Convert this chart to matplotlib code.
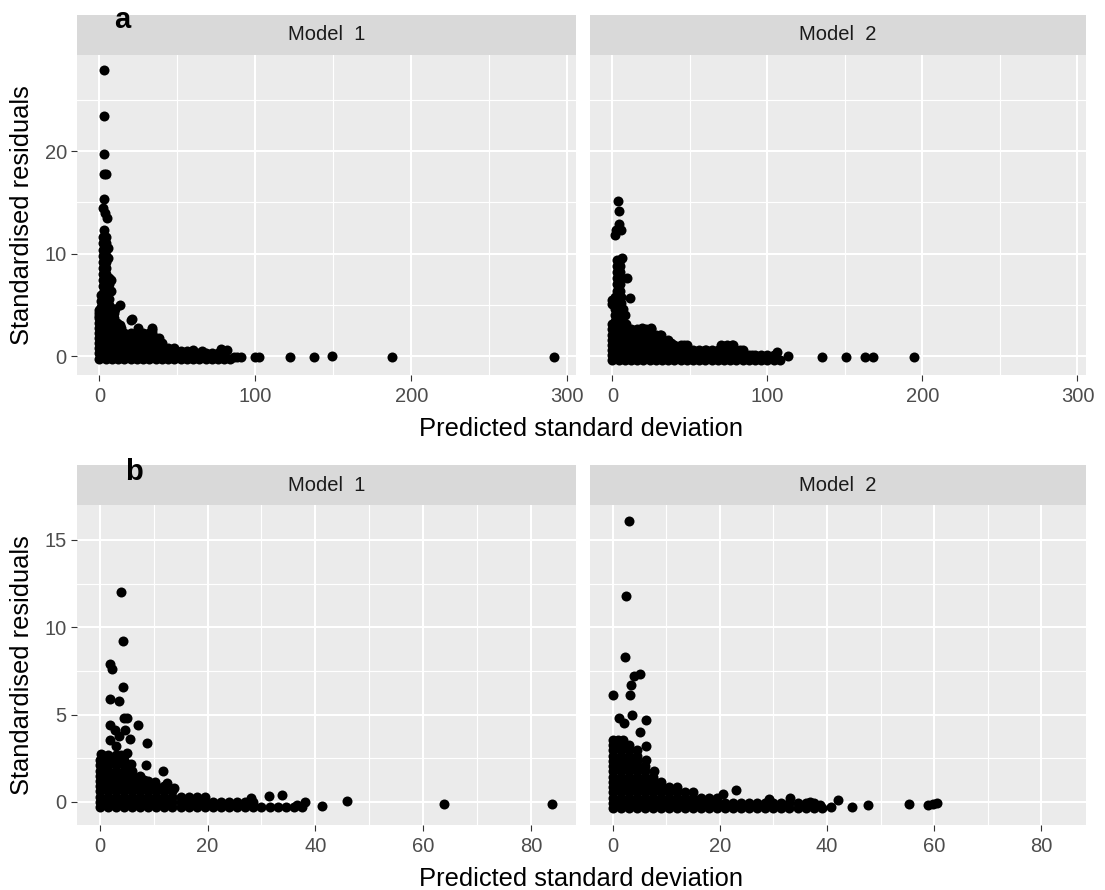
import matplotlib
matplotlib.use("Agg")
import matplotlib.pyplot as plt
from matplotlib.ticker import FixedLocator

plt.rcParams['font.family'] = ['Liberation Sans', 'DejaVu Sans']

# ---------------- labels ----------------
strip_labels = ["Model  1", "Model  2"]
panel_tags = ["a", "b"]
x_title = "Predicted standard deviation"
y_title = "Standardised residuals"

top_xticks = [0, 100, 200, 300]
top_xminor = [50, 150, 250]
top_yticks = [0, 10, 20]
top_yminor = [5, 15, 25]
bot_xticks = [0, 20, 40, 60, 80]
bot_xminor = [10, 30, 50, 70]
bot_yticks = [0, 5, 10, 15]
bot_yminor = [2.5, 7.5, 12.5]

# ---------------- data: (a) Model 1 ----------------
a1_pts_x = [2.6, 2.6, 2.6, 2.6, 4.3, 2.6, 2.0, 3.6, 5.1, 2.6,
            2.5, 4.0, 2.5, 4.0, 2.5, 4.0, 2.5, 4.0, 2.5, 4.0, 2.5, 4.0, 2.5, 4.0,
            2.5, 4.0, 2.5, 4.0, 2.5, 4.0, 2.5, 4.0, 2.5, 4.0,
            1.0, 1.0, 1.0, 1.0, 6.0, 6.0, 6.0, 6.0, 6.0, 7.5, 7.3, 5.5, 5.5,
            0.0, 0.0, 9.0, 10.0, 12.9, 13.0, 20.0, 21.0, 25.0, 33.6, 34.0,
            52, 56, 60, 66, 78, 82, 86, 88, 91,
            100, 102, 122, 137.4, 149.2, 187.8, 291.6]
a1_pts_y = [27.9, 23.4, 19.7, 17.8, 17.8, 15.3, 14.5, 14.0, 13.5, 12.3,
            11.6, 11.6, 11.0, 11.0, 10.4, 10.4, 9.8, 9.8, 9.2, 9.2, 8.6, 8.6, 8.0, 8.0,
            7.4, 7.4, 6.8, 6.8, 6.2, 6.2, 5.6, 5.6, 5.0, 5.0,
            6.0, 5.4, 4.8, 4.4, 7.6, 7.0, 6.4, 5.6, 5.0, 6.4, 7.4, 10.6, 9.6,
            4.5, 3.9, 4.6, 4.6, 5.0, 3.0, 3.5, 3.6, 2.7, 2.7, 2.5,
            0.5, 0.5, 0.6, 0.5, 0.7, 0.6, -0.13, -0.13, -0.13,
            -0.13, -0.13, -0.13, -0.13, 0.0, -0.13, -0.13]
a1_row_y = [-0.25, 0.25, 0.75, 1.25, 1.75, 2.25, 2.75, 3.25, 3.75, 4.25]
a1_row_x = [
    [0, 4, 8, 12, 16, 20, 24, 28, 32, 36, 40, 44, 48, 52, 56, 60, 64, 68, 72, 76, 80, 84],
    [0, 4, 8, 12, 16, 20, 24, 28, 32, 36, 40, 44, 48, 52, 56, 60, 64, 68, 72, 76, 80],
    [0, 4, 8, 12, 16, 20, 24, 28, 32, 36, 40, 44, 48],
    [0, 4, 8, 12, 16, 20, 24, 28, 32, 36, 40],
    [0, 4, 8, 12, 16, 20, 24, 28, 32, 36, 38],
    [0, 4, 8, 12, 16, 20, 24, 28, 32, 34],
    [0, 4, 8, 12, 14],
    [0, 3, 6, 9, 11],
    [0, 3, 6, 9],
    [0, 3, 6, 9],
]

# ---------------- data: (a) Model 2 ----------------
a2_pts_x = [3.6, 4.0, 4.0, 2.6, 5.4, 1.6, 6.3, 4.0,
            3.0, 4.7, 3.0, 4.7, 3.0, 4.7, 3.0, 4.7, 3.0, 4.7, 3.0, 4.7,
            1.5, 3.5, 5.5, 1.5, 3.5, 5.5, 1.5, 3.5, 5.5, 1.5, 3.5, 5.5, 1.5, 3.5, 5.5,
            7.0, 8.0, 9.3, 11.1, 0.0, 0.0,
            19.1, 25.0, 31.4, 37.8, 46.4, 60.3, 72.0, 77.3, 82.6, 90.0, 106.0, 113.6,
            135.4, 150.7, 162.9, 168.2, 194.8]
a2_pts_y = [15.1, 14.2, 12.9, 12.3, 12.3, 11.8, 9.6, 8.3,
            9.4, 9.4, 8.8, 8.8, 8.2, 8.2, 7.6, 7.6, 7.0, 7.0, 6.4, 6.4,
            5.8, 5.8, 5.8, 5.2, 5.2, 5.2, 4.6, 4.6, 4.6, 4.0, 4.0, 4.0, 3.4, 3.4, 3.4,
            4.6, 4.0, 7.6, 5.7, 5.5, 5.1,
            2.7, 2.7, 2.1, 1.3, 1.1, 0.6, 1.0, 1.1, 0.6, 0.1, 0.4, 0.0,
            -0.13, -0.13, -0.13, -0.13, -0.13]
a2_row_y = [-0.4, 0.1, 0.6, 1.1, 1.6, 2.1, 2.6, 3.1]
a2_row_x = [
    [0, 4, 8, 12, 16, 20, 24, 28, 32, 36, 40, 44, 48, 52, 56, 60, 64, 68, 72, 76, 80, 84, 88, 92, 96, 100, 104, 108],
    [0, 4, 8, 12, 16, 20, 24, 28, 32, 36, 40, 44, 48, 52, 56, 60, 64, 68, 72, 76, 80, 84, 88, 92, 96, 100, 104],
    [0, 4, 8, 12, 16, 20, 24, 28, 32, 36, 40, 44, 48, 52, 56, 60, 64, 68, 72, 76, 80, 84],
    [0, 4, 8, 12, 16, 20, 24, 28, 32, 36, 40, 44, 48, 70, 74, 78],
    [0, 4, 8, 12, 16, 20, 24, 28, 32, 36],
    [0, 4, 8, 12, 16, 20, 24, 28, 31],
    [0, 4, 8, 12, 16, 19, 22, 25],
    [0, 3, 6, 9],
]

# ---------------- data: (b) Model 1 ----------------
b1_pts_x = [3.9, 4.3, 1.9, 2.3, 4.3, 1.85, 3.6, 4.5, 5.1, 1.9, 7.2, 2.8, 4.7, 3.6,
            5.7, 1.9, 8.8, 3.0, 0.2, 5.0, 8.5, 5.9, 11.8, 0.5, 8.2, 10.2, 12.5, 13.8,
            28.0, 31.4, 33.8, 36.5, 38.0, 41.3, 45.8, 63.8, 83.9]
b1_pts_y = [12.0, 9.2, 7.9, 7.6, 6.6, 5.9, 5.8, 4.8, 4.8, 4.4, 4.4, 4.1, 4.1, 3.8,
            3.6, 3.55, 3.4, 3.2, 2.75, 2.8, 2.1, 2.2, 1.8, 2.2, 1.26, 1.16, 1.07, 0.78,
            0.2, 0.33, 0.37, -0.2, -0.02, -0.21, 0.04, -0.1, -0.1]
b1_row_y = [-0.3, 0.0, 0.3, 0.6, 0.9, 1.2, 1.5, 1.8, 2.1, 2.4, 2.7]
b1_row_x = [
    [0, 1.5, 3, 4.5, 6, 7.5, 9, 10.5, 12, 13.5, 15, 16.5, 18, 19.5, 21, 22.5, 24, 25.5, 27, 28.5, 30, 31.5, 33, 34.5, 36, 37.5],
    [0, 1.5, 3, 4.5, 6, 7.5, 9, 10.5, 12, 13.5, 15, 16.5, 18, 19.5, 21, 22.5, 24, 25.5, 27, 28.5],
    [0, 1.5, 3, 4.5, 6, 7.5, 9, 10.5, 12, 13.5, 15, 16.5, 18, 19.5],
    [0, 1.5, 3, 4.5, 6, 7.5, 9, 10.5, 12, 13.5],
    [0, 1.5, 3, 4.5, 6, 7.5, 9, 10.5, 12],
    [0, 1.5, 3, 4.5, 6, 7.5, 9],
    [0, 1.5, 3, 4.5, 6, 7.5],
    [0, 1.5, 3, 4.5, 6],
    [0, 1.5, 3, 4.5, 5.5],
    [0, 1.5, 3, 4.5],
    [0.5, 1.5, 3, 4],
]

# ---------------- data: (b) Model 2 ----------------
b2_pts_x = [3.0, 2.6, 2.3, 5.2, 4.0, 3.5, 0.0, 3.3, 3.7, 1.2, 6.3, 2.2, 5.2, 6.2,
            6.2, 7.7, 8.3, 23.1, 20.6, 29.2, 31.4, 33.1, 36.8, 38.7, 40.7, 42.1, 44.7,
            47.6, 55.2, 58.9, 59.8, 60.5]
b2_pts_y = [16.1, 11.8, 8.3, 7.35, 7.2, 6.7, 6.1, 6.1, 5.0, 4.8, 4.7, 4.5, 4.0, 3.2,
            2.4, 1.8, 1.1, 0.7, 0.43, 0.14, -0.15, 0.23, 0.0, -0.2, -0.3, 0.1, -0.3,
            -0.2, -0.1, -0.2, -0.1, -0.05]
b2_row_y = [-0.35, -0.05, 0.25, 0.55, 0.85, 1.15, 1.45, 1.75, 2.05, 2.35, 2.65, 2.95, 3.25, 3.55]
b2_row_x = [
    [0, 1.5, 3, 4.5, 6, 7.5, 9, 10.5, 12, 13.5, 15, 16.5, 18, 19.5, 21, 22.5, 24, 25.5, 27, 28.5, 30, 31.5, 33, 34.5, 36, 37.5, 39],
    [0, 1.5, 3, 4.5, 6, 7.5, 9, 10.5, 12, 13.5, 15, 16.5, 18, 19.5, 21, 22.5, 24, 25.5, 27, 28.5, 30, 31.5, 33, 34.5, 36, 37.5],
    [0, 1.5, 3, 4.5, 6, 7.5, 9, 10.5, 12, 13.5, 15, 16.5, 18, 19.5],
    [0, 1.5, 3, 4.5, 6, 7.5, 9, 10.5, 12, 13.5, 15],
    [0, 1.5, 3, 4.5, 6, 7.5, 9, 10.5, 12],
    [0, 1.5, 3, 4.5, 6, 7.5, 9],
    [0, 1.5, 3, 4.5, 6, 7.5],
    [0, 1.5, 3, 4.5, 6],
    [0, 1.5, 3, 4.5, 6],
    [0, 1.5, 3, 4.5],
    [0, 1.5, 3, 4.5],
    [0, 1.5, 3, 4.5],
    [0, 1.5, 3],
    [0, 1, 2],
]

# ---------------- figure ----------------
W, H = 1105, 890
fig = plt.figure(figsize=(W / 100, H / 100), dpi=100)


def px_axes(x0, y0, x1, y1):
    return fig.add_axes([x0 / W, 1 - y1 / H, (x1 - x0) / W, (y1 - y0) / H])


def collect(pts_x, pts_y, row_y, row_x):
    xs, ys = list(pts_x), list(pts_y)
    for yv, xl in zip(row_y, row_x):
        xs.extend(xl)
        ys.extend([yv] * len(xl))
    return xs, ys


cols = [(77, 576), (590, 1086)]
rows = [dict(strip=(15, 55), panel=(55, 375), xlim=(-14.4, 305.5), ylim=(-1.85, 29.4),
             xt=top_xticks, xm=top_xminor, yt=top_yticks, ym=top_yminor,
             data=[collect(a1_pts_x, a1_pts_y, a1_row_y, a1_row_x),
                   collect(a2_pts_x, a2_pts_y, a2_row_y, a2_row_x)]),
        dict(strip=(465, 505), panel=(505, 825), xlim=(-4.2, 88.3), ylim=(-1.32, 17.0),
             xt=bot_xticks, xm=bot_xminor, yt=bot_yticks, ym=bot_yminor,
             data=[collect(b1_pts_x, b1_pts_y, b1_row_y, b1_row_x),
                   collect(b2_pts_x, b2_pts_y, b2_row_y, b2_row_x)])]

for r, row in enumerate(rows):
    for c, (x0, x1) in enumerate(cols):
        ax = px_axes(x0, row['panel'][0], x1, row['panel'][1])
        ax.set_facecolor('#EBEBEB')
        for s in ax.spines.values():
            s.set_visible(False)
        ax.set_xlim(*row['xlim'])
        ax.set_ylim(*row['ylim'])
        ax.xaxis.set_major_locator(FixedLocator(row['xt']))
        ax.xaxis.set_minor_locator(FixedLocator(row['xm']))
        ax.yaxis.set_major_locator(FixedLocator(row['yt']))
        ax.yaxis.set_minor_locator(FixedLocator(row['ym']))
        ax.grid(which='major', color='white', linewidth=1.5)
        ax.grid(which='minor', color='white', linewidth=0.8)
        ax.set_axisbelow(True)
        ax.tick_params(which='major', length=4.3, width=0.8, color='#333333',
                       labelcolor='#4D4D4D', labelsize=14.5)
        ax.tick_params(axis='x', which='major', pad=4)
        ax.tick_params(axis='y', which='major', pad=3)
        ax.tick_params(which='minor', length=0)
        if c == 1:
            ax.tick_params(axis='y', left=False, labelleft=False)
        xs, ys = row['data'][c]
        ax.scatter(xs, ys, s=52, c='black', linewidths=0, zorder=3)

        sx = px_axes(x0, row['strip'][0], x1, row['strip'][1])
        sx.set_facecolor('#D9D9D9')
        for s in sx.spines.values():
            s.set_visible(False)
        sx.set_xticks([])
        sx.set_yticks([])
        sx.text(0.5, 0.5, strip_labels[c], ha='center', va='center',
                fontsize=14.5, color='#1A1A1A', transform=sx.transAxes)

    py0, py1 = row['panel']
    fig.text(581 / W, 1 - (py1 + 54) / H, x_title, ha='center', va='center',
             fontsize=18.4, color='black')
    fig.text(22 / W, 1 - ((py0 + py1) / 2) / H, y_title, ha='center', va='center',
             rotation=90, fontsize=18.4, color='black')

fig.text(122 / W, 1 - 28 / H, panel_tags[0], ha='center', va='baseline',
         fontsize=21, fontweight='bold', color='black')
fig.text(134 / W, 1 - 480 / H, panel_tags[1], ha='center', va='baseline',
         fontsize=21, fontweight='bold', color='black')

fig.savefig('out.png', dpi=100, facecolor='white')
